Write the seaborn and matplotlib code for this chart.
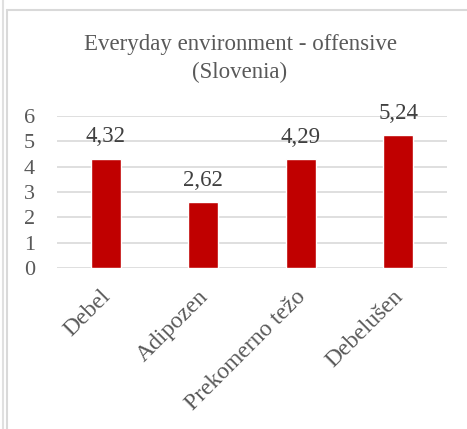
import matplotlib
matplotlib.use("Agg")
import matplotlib.pyplot as plt
import matplotlib.transforms as mtransforms
import seaborn as sns
import pandas as pd
from matplotlib.lines import Line2D

categories = ["Debel", "Adipozen", "Prekomerno težo", "Debelušen"]
values = [4.32, 2.62, 4.29, 5.24]
yticks = [0, 1, 2, 3, 4, 5, 6]
title = "Everyday environment - offensive\n(Slovenia)"

sns.set_theme(style="white")
plt.rcParams["font.family"] = ["Liberation Serif", "DejaVu Serif"]

text_color = "#595959"
bar_color = "#C00000"
grid_color = "#D9D9D9"

df = pd.DataFrame({"term": categories, "score": values})

fig = plt.figure(figsize=(4.67, 4.29), dpi=100)
ax = fig.add_axes([0.122, 0.375, 0.835, 0.3546])

sns.barplot(data=df, x="term", y="score", color=bar_color, width=0.31,
            saturation=1, ax=ax, zorder=3)

ax.set_ylim(0, 6)
ax.set_xlim(-0.5, len(categories) - 0.5)
ax.set_yticks(yticks)
ax.set_yticklabels([str(t) for t in yticks], color=text_color, fontsize=16)
ax.yaxis.grid(True, color=grid_color, linewidth=1.2, zorder=0)
ax.set_axisbelow(True)
for s in ax.spines.values():
    s.set_visible(False)
ax.tick_params(axis="both", length=0)
ax.tick_params(axis="y", pad=16)
ax.set_xlabel("")
ax.set_ylabel("")
ax.set_xticks(range(len(categories)))
ax.set_xticklabels(categories, rotation=45, ha="right", rotation_mode="anchor",
                   color=text_color, fontsize=17)
ax.tick_params(axis="x", pad=13)
shift = mtransforms.ScaledTranslation(-4 / 72, 0, fig.dpi_scale_trans)
for lbl in ax.get_xticklabels():
    lbl.set_transform(lbl.get_transform() + shift)

for i, v in enumerate(values):
    ax.annotate(f"{v:.2f}".replace(".", ","), (i, v), xytext=(0, 8),
                textcoords="offset points", ha="center", va="bottom",
                fontsize=16.5, color="#404040")

fig.text(0.514, 0.863, title, ha="center", va="center", fontsize=16.5,
         color=text_color, linespacing=1.4)

# outer frame lines
fig.add_artist(Line2D([0.015, 1.0], [0.977, 0.977], color="#D9D9D9", lw=1.5,
                      transform=fig.transFigure))
fig.add_artist(Line2D([0.007, 0.007], [0, 1], color="#E0E0E0", lw=1.5,
                      transform=fig.transFigure))
fig.add_artist(Line2D([0.016, 0.016], [0, 0.977], color="#D9D9D9", lw=1.5,
                      transform=fig.transFigure))

fig.savefig("out.png", dpi=100, facecolor="white")
